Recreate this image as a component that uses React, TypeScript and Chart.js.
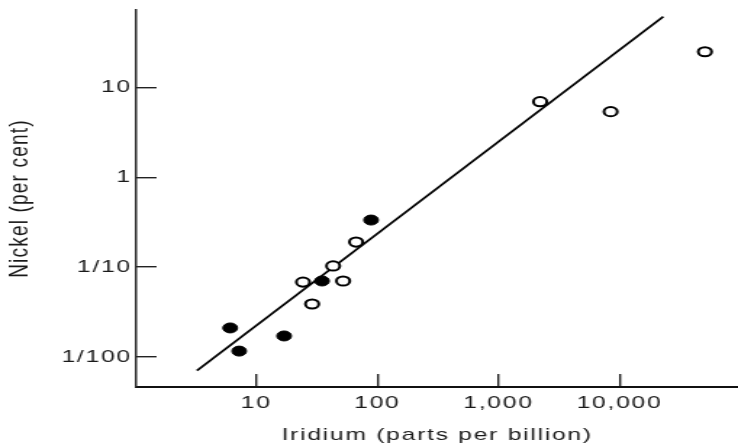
import React, { useEffect, useRef } from 'react';
import { Chart, registerables } from 'chart.js';

Chart.register(...registerables);

// Reference image is horizontally stretched; draw narrower and stretch with CSS.
const STRETCH = 1.45;
const PAGE_W = 738;
const PAGE_H = 448;
const CANVAS_W = Math.round(PAGE_W / STRETCH);

const X_TICKS = [10, 100, 1000, 10000];
const X_TICK_LABELS = ['10', '100', '1,000', '10,000'];
const Y_TICKS = [0.01, 0.1, 1, 10];
const Y_TICK_LABELS = ['1/100', '1/10', '1', '10'];

const X_MIN = 1.02;
const X_MAX = 95300;
const Y_MIN = 0.00462;
const Y_MAX = 72.9;

// filled circles
const FILLED_IRIDIUM = [6.08, 7.22, 16.97, 34.9, 88.7];
const FILLED_NICKEL = [0.021, 0.0116, 0.0171, 0.07, 0.334];

// open circles
const OPEN_IRIDIUM = [24.3, 28.9, 43.1, 52.1, 66.7, 2210, 8450, 50800];
const OPEN_NICKEL = [0.068, 0.0388, 0.103, 0.07, 0.19, 6.95, 5.38, 25.0];

// fitted line
const FIT_IRIDIUM = [3.23, 23000];
const FIT_NICKEL = [0.00702, 61.4];

const X_TITLE = 'Iridium (parts per billion)';
const Y_TITLE = 'Nickel (per cent)';

const FONT = "'Liberation Sans', Arial, Helvetica, sans-serif";
const INK = '#1a1a1a';

const pts = (xs: number[], ys: number[]) => xs.map((x, i) => ({ x, y: ys[i] }));

const spacingPlugin = {
  id: 'letterSpacing',
  beforeDraw(chart: any) {
    (chart.ctx as any).letterSpacing = '1.2px';
  },
};

export default function App() {
  const ref = useRef<HTMLCanvasElement | null>(null);

  useEffect(() => {
    if (!ref.current) return;
    const chart = new Chart(ref.current, {
      type: 'scatter',
      data: {
        datasets: [
          {
            label: 'filled',
            data: pts(FILLED_IRIDIUM, FILLED_NICKEL),
            backgroundColor: '#000',
            borderColor: '#000',
            borderWidth: 1,
            pointRadius: 5,
            order: 1,
          },
          {
            label: 'open',
            data: pts(OPEN_IRIDIUM, OPEN_NICKEL),
            backgroundColor: '#fff',
            borderColor: '#000',
            borderWidth: 2,
            pointRadius: 4.6,
            order: 2,
          },
          {
            type: 'line',
            label: 'fit',
            data: pts(FIT_IRIDIUM, FIT_NICKEL),
            borderColor: '#000',
            borderWidth: 1.7,
            pointRadius: 0,
            fill: false,
            order: 3,
          } as any,
        ],
      },
      options: {
        responsive: false,
        animation: false,
        devicePixelRatio: 1,
        events: [],
        layout: { autoPadding: false, padding: { top: 10, left: 0, right: 0, bottom: 0 } },
        plugins: { legend: { display: false }, tooltip: { enabled: false } },
        scales: {
          x: {
            type: 'logarithmic',
            position: 'bottom',
            min: X_MIN,
            max: X_MAX,
            afterBuildTicks: (s: any) => {
              s.ticks = X_TICKS.map((value) => ({ value }));
            },
            afterFit: (s: any) => {
              s.height = 61;
              s.paddingLeft = 0;
              s.paddingRight = 0;
              s.paddingTop = 0;
              s.paddingBottom = 0;
            },
            ticks: {
              autoSkip: false,
              maxRotation: 0,
              minRotation: 0,
              padding: 19,
              color: INK,
              font: { family: FONT, size: 17 },
              callback: (_v: any, i: number) => X_TICK_LABELS[i],
            },
            grid: {
              display: true,
              drawOnChartArea: false,
              drawTicks: true,
              tickLength: -13,
              color: '#222',
              lineWidth: 1.4,
            },
            border: { display: true, color: '#111', width: 2 },
            title: {
              display: true,
              text: X_TITLE,
              color: INK,
              font: { family: FONT, size: 17 },
              padding: { top: 0, bottom: 2 },
            },
          },
          y: {
            type: 'logarithmic',
            position: 'left',
            min: Y_MIN,
            max: Y_MAX,
            afterBuildTicks: (s: any) => {
              s.ticks = Y_TICKS.map((value) => ({ value }));
            },
            afterFit: (s: any) => {
              s.width = 94;
              s.paddingLeft = 0;
              s.paddingRight = 0;
              s.paddingTop = 0;
              s.paddingBottom = 0;
            },
            ticks: {
              autoSkip: false,
              padding: 17,
              color: INK,
              font: { family: FONT, size: 17 },
              callback: (_v: any, i: number) => Y_TICK_LABELS[i],
            },
            grid: {
              display: true,
              drawOnChartArea: false,
              drawTicks: true,
              tickLength: -14,
              color: '#222',
              lineWidth: 1.4,
            },
            border: { display: true, color: '#2a2a2a', width: 1.5 },
            title: {
              display: true,
              text: Y_TITLE,
              color: INK,
              font: { family: FONT, size: 19 },
              padding: { top: 2, bottom: 0 },
            },
          },
        },
      } as any,
      plugins: [spacingPlugin],
    });
    return () => chart.destroy();
  }, []);

  return (
    <div style={{ position: 'fixed', left: 0, top: 0, width: PAGE_W, height: PAGE_H, background: '#fff' }}>
      <canvas
        ref={ref}
        width={CANVAS_W}
        height={PAGE_H}
        style={{ width: PAGE_W + 'px', height: PAGE_H + 'px', display: 'block' }}
      />
    </div>
  );
}
